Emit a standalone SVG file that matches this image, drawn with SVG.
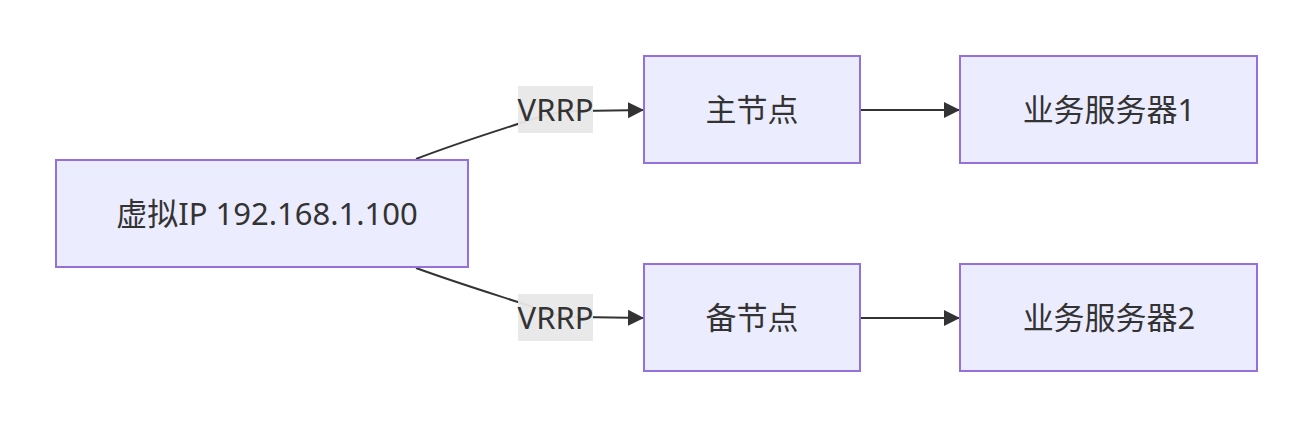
<svg xmlns="http://www.w3.org/2000/svg" width="1313" height="428" viewBox="0 0 1313 428">
<defs>
<marker id="arrow" viewBox="0 0 10 10" refX="10" refY="5" markerWidth="16" markerHeight="17" markerUnits="userSpaceOnUse" orient="auto">
<path d="M0,0 L10,5 L0,10 z" fill="#333333"/>
</marker>
<style>
.node rect{fill:#ECECFF;stroke:#9370DB;stroke-width:2}
.node text,.elabel text{font-family:"Noto Sans","Noto Sans CJK SC",sans-serif;font-size:31px;fill:#333333;text-anchor:middle;dominant-baseline:central}
.edge{fill:none;stroke:#333333;stroke-width:2}
.elabel rect{fill:#e8e8e8;opacity:0.95}
</style>
</defs>
<rect width="1313" height="428" fill="#ffffff"/>
<g id="connectors">
<path class="edge" d="M416,159 C460,142 500,130 530,120 C548,114 560,111 580,111 L644,110" marker-end="url(#arrow)"/>
<path class="edge" d="M416,268 C460,284 500,296 530,306 C548,313 560,317 580,317 L644,318" marker-end="url(#arrow)"/>
<path class="edge" d="M860,110 L960,110" marker-end="url(#arrow)"/>
<path class="edge" d="M860,318 L960,318" marker-end="url(#arrow)"/>
<g class="elabel" id="label1"><rect x="518" y="86" width="75" height="47"/><text x="555.5" y="108.5">VRRP</text></g>
<g class="elabel" id="label2"><rect x="518" y="294" width="75" height="47"/><text x="555.5" y="316.5">VRRP</text></g>
</g>
<g class="node" id="vip"><rect x="56" y="160" width="412" height="107"/><text x="267" y="212.5">虚拟IP 192.168.1.100</text></g>
<g class="node" id="master"><rect x="644" y="56" width="216" height="107"/><text x="752" y="108.5">主节点</text></g>
<g class="node" id="backup"><rect x="644" y="264" width="216" height="107"/><text x="752" y="316.5">备节点</text></g>
<g class="node" id="server1"><rect x="960" y="56" width="297" height="107"/><text x="1109" y="108.5">业务服务器1</text></g>
<g class="node" id="server2"><rect x="960" y="264" width="297" height="107"/><text x="1109" y="316.5">业务服务器2</text></g>
</svg>
